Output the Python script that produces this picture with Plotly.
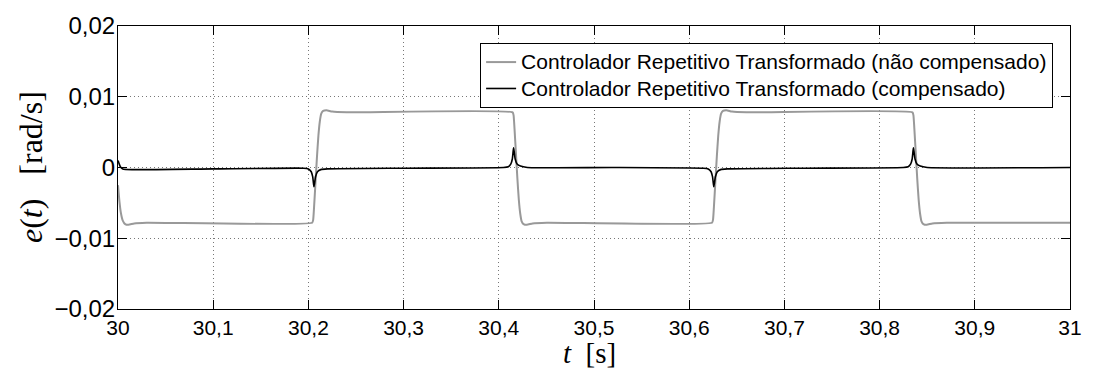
import plotly.graph_objects as go

# ---- data ----
t_nc = [30.0000, 30.0015, 30.0030, 30.0050, 30.0075, 30.0110, 30.0170, 30.0300,
        30.2040, 30.2050, 30.2060, 30.2075, 30.2090, 30.2105, 30.2120, 30.2135, 30.2155, 30.2190, 30.2250, 30.2400,
        30.4145, 30.4155, 30.4165, 30.4180, 30.4195, 30.4210, 30.4225, 30.4240, 30.4260, 30.4295, 30.4355, 30.4505,
        30.6240, 30.6250, 30.6260, 30.6275, 30.6290, 30.6305, 30.6320, 30.6335, 30.6355, 30.6390, 30.6450, 30.6600,
        30.8345, 30.8355, 30.8365, 30.8380, 30.8395, 30.8410, 30.8425, 30.8440, 30.8460, 30.8495, 30.8555, 30.8705,
        31.0000]
e_nc = [-0.0025, -0.0048, -0.0064, -0.0075, -0.0080, -0.0081, -0.0079, -0.0078,
        -0.0078, -0.0074, -0.0055, -0.0020, 0.0015, 0.0045, 0.0065, 0.0076, 0.0080, 0.0081, 0.0079, 0.0078,
        0.0078, 0.0074, 0.0055, 0.0020, -0.0015, -0.0045, -0.0065, -0.0076, -0.0080, -0.0081, -0.0079, -0.0078,
        -0.0078, -0.0074, -0.0055, -0.0020, 0.0015, 0.0045, 0.0065, 0.0076, 0.0080, 0.0081, 0.0079, 0.0078,
        0.0078, 0.0074, 0.0055, 0.0020, -0.0015, -0.0045, -0.0065, -0.0076, -0.0080, -0.0081, -0.0079, -0.0078,
        -0.0078]

t_c = [30.0000, 30.0010, 30.0025, 30.0050, 30.0150, 30.1000,
       30.1950, 30.2000, 30.2030, 30.2045, 30.2053, 30.2058, 30.2064, 30.2075, 30.2095, 30.2130, 30.2200, 30.3000,
       30.4050, 30.4100, 30.4127, 30.4142, 30.4150, 30.4155, 30.4161, 30.4172, 30.4192, 30.4227, 30.4300, 30.5200,
       30.6150, 30.6200, 30.6230, 30.6245, 30.6253, 30.6258, 30.6264, 30.6275, 30.6295, 30.6330, 30.6400, 30.7200,
       30.8250, 30.8300, 30.8327, 30.8342, 30.8350, 30.8355, 30.8361, 30.8372, 30.8392, 30.8427, 30.8500, 31.0000]
e_c = [0.0010, 0.0006, 0.0001, -0.0002, -0.0003, -0.0002,
       -0.0001, -0.0002, -0.0006, -0.0013, -0.0022, -0.0027, -0.0023, -0.0013, -0.0006, -0.0003, -0.0002, -0.0001,
       0.0000, 0.0001, 0.0005, 0.0012, 0.0022, 0.0028, 0.0023, 0.0012, 0.0005, 0.0002, 0.0000, 0.0000,
       -0.0001, -0.0002, -0.0006, -0.0013, -0.0022, -0.0027, -0.0023, -0.0013, -0.0006, -0.0003, -0.0002, -0.0001,
       0.0000, 0.0001, 0.0005, 0.0012, 0.0022, 0.0028, 0.0023, 0.0012, 0.0005, 0.0002, 0.0000, 0.0000]

x_ticks = [30.0, 30.1, 30.2, 30.3, 30.4, 30.5, 30.6, 30.7, 30.8, 30.9, 31.0]
x_labels = ["30", "30,1", "30,2", "30,3", "30,4", "30,5", "30,6", "30,7", "30,8", "30,9", "31"]
y_ticks = [-0.02, -0.01, 0.0, 0.01, 0.02]
y_labels = ["\u22120,02", "\u22120,01", "0", "0,01", "0,02"]

name_nc = "Controlador Repetitivo Transformado (não compensado)"
name_c = "Controlador Repetitivo Transformado (compensado)"

W, H = 1094, 371
ml, mr, mt, mb = 118, 18, 24, 62

def big(s):
    return '<span style="font-size:21px">' + s + '</span>'

fig = go.Figure()
fig.add_trace(go.Scatter(x=t_nc, y=e_nc, mode="lines", name=big(name_nc), legendgroup="a",
                         line=dict(color="#999999", width=2, shape="spline", smoothing=0.5)))
fig.add_trace(go.Scatter(x=t_c, y=e_c, mode="lines", name=big(name_c), legendgroup="b",
                         line=dict(color="#000000", width=1.6, shape="spline", smoothing=0.5)))

sans = "Liberation Sans, Arial, sans-serif"
axis_common = dict(showline=True, linecolor="black", linewidth=1, mirror="ticks",
                   ticks="inside", ticklen=9, tickcolor="black", tickwidth=1,
                   showgrid=True, gridcolor="#777777", gridwidth=1, griddash="1px,3px",
                   zeroline=False)

fig.update_xaxes(range=[30, 31], tickvals=x_ticks, ticktext=x_labels,
                 tickfont=dict(family=sans, size=21, color="black"), **axis_common)
fig.update_yaxes(range=[-0.02, 0.02], tickvals=y_ticks, ticktext=y_labels,
                 tickfont=dict(family=sans, size=24, color="black"),
                 ticklabelstandoff=-3, **axis_common)

pw = W - ml - mr
ph = H - mt - mb

fig.update_layout(
    width=W, height=H,
    margin=dict(l=ml, r=mr, t=mt, b=mb, pad=0),
    plot_bgcolor="white", paper_bgcolor="white",
    showlegend=True,
    legend=dict(x=(1059 - ml) / pw, y=(H - mb - 41) / ph, xanchor="right", yanchor="top",
                bgcolor="white", bordercolor="black", borderwidth=1,
                font=dict(family=sans, size=18, color="black"),
                tracegroupgap=0, itemwidth=30),
    annotations=[
        dict(text="<i>e</i>(<i>t</i>)   [rad/s]", xref="paper", yref="paper",
             x=(30 - ml) / pw, y=0.5, xanchor="center", yanchor="middle", textangle=-90,
             showarrow=False, font=dict(family="Liberation Serif, Times New Roman, serif", size=32, color="black")),
        dict(text="<i>t</i>  [s]", xref="paper", yref="paper",
             x=(592 - ml) / pw, y=(H - mb - 353) / ph, xanchor="center", yanchor="middle",
             showarrow=False, font=dict(family="Liberation Serif, Times New Roman, serif", size=29, color="black")),
    ],
)

fig.write_html("out.html")
